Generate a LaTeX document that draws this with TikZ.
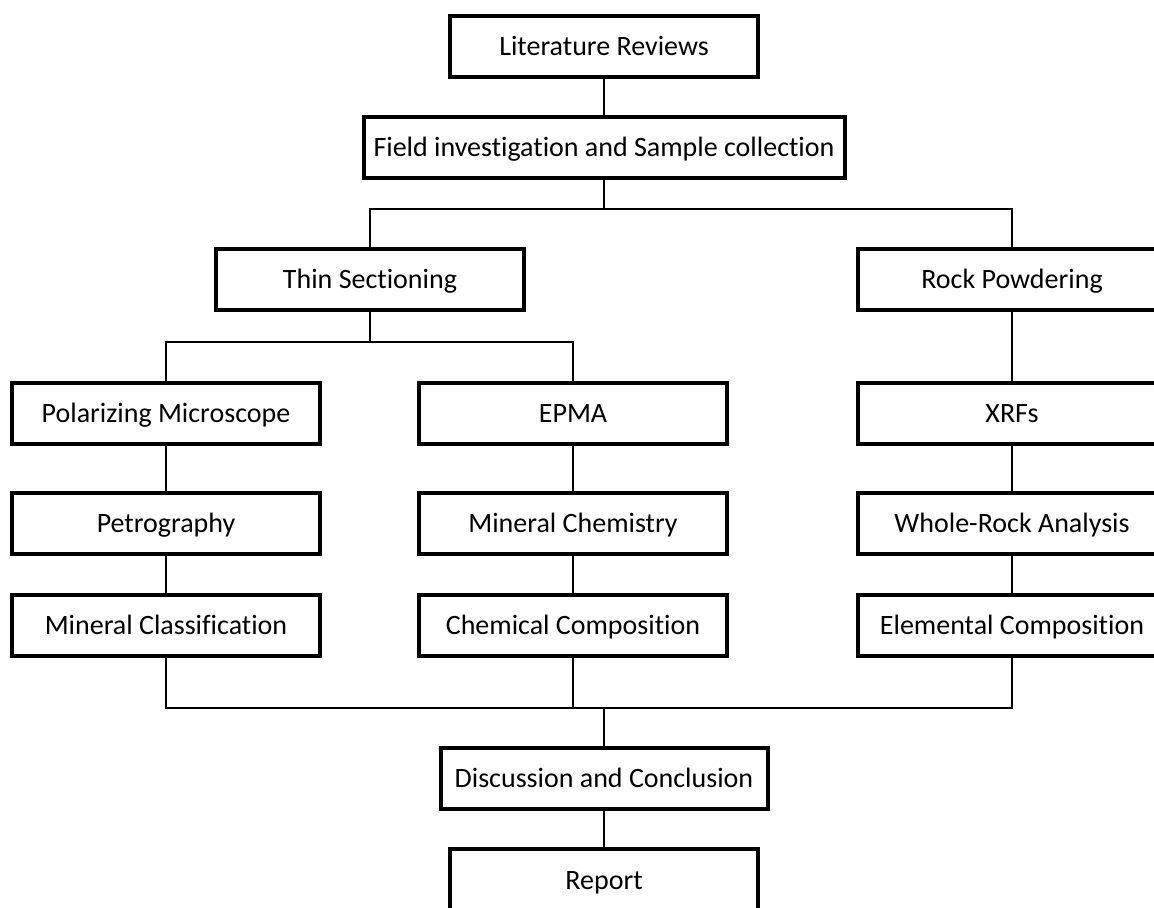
\documentclass[tikz,border=0pt]{standalone}
\usepackage{fontspec}
\setmainfont[Ligatures=NoCommon]{Carlito}
\usepackage{tikz}
\usetikzlibrary{positioning,calc}
\tikzset{
  stage/.style={draw=black,fill=white,line width=2pt,inner sep=0pt,
    minimum width=154pt,minimum height=30.5pt,
    text height=9pt,text depth=0pt,
    font=\fontsize{14}{16}\selectfont},
  wide/.style={minimum width=240.5pt},
  link/.style={line width=1.4pt,line join=miter},
}

\begin{document}
\begin{tikzpicture}[x=0.5pt,y=-0.5pt]
\useasboundingbox (0,0) rectangle (1154,907);
% top of the flow
\node[stage] (lit) at (604,46) {Literature Reviews};
\node[stage,wide] (field) at (604,147.5) {Field investigation and Sample collection};
% two preparation branches
\node[stage] (thin) at (370,279.5) {Thin Sectioning};
\node[stage] (rock) at (1012,279.5) {Rock Powdering};
% thin section column: microscope and microprobe
\node[stage] (polar) at (166,413) {Polarizing Microscope};
\node[stage] (epma) at (573,413) {EPMA};
\node[stage] (xrf) at (1012,413) {XRFs};
\node[stage] (petro) at (166,523) {Petrography};
\node[stage] (minchem) at (573,523) {Mineral Chemistry};
\node[stage] (whole) at (1012,523) {Whole-Rock Analysis};
\node[stage] (mincls) at (166,625.5) {Mineral Classification};
\node[stage] (chemcomp) at (573,625.5) {Chemical Composition};
\node[stage] (elem) at (1012,625.5) {Elemental Composition};
% end of the flow
\node[stage,minimum width=163.5pt] (disc) at (604,778) {Discussion and Conclusion};
\node[stage,minimum height=31pt] (report) at (604,880) {Report};
% split and merge points
\coordinate (split1) at (604,209);
\coordinate (split2) at (370,342);
\coordinate (merge) at (604,708);
% connectors
\draw[link] (lit) -- (field);
\draw[link] (field) -- (split1);
\draw[link] (thin.north) |- (split1) -| (rock.north);
\draw[link] (thin) -- (split2);
\draw[link] (polar.north) |- (split2) -| (epma.north);
\draw[link] (polar) -- (petro);
\draw[link] (petro) -- (mincls);
\draw[link] (epma) -- (minchem);
\draw[link] (minchem) -- (chemcomp);
\draw[link] (rock) -- (xrf);
\draw[link] (xrf) -- (whole);
\draw[link] (whole) -- (elem);
\draw[link] (mincls.south) |- (merge) -| (elem.south);
\draw[link] (chemcomp.south) -- (chemcomp.south |- merge);
\draw[link] (merge) -- (disc);
\draw[link] (disc) -- (report);
\end{tikzpicture}
\end{document}
